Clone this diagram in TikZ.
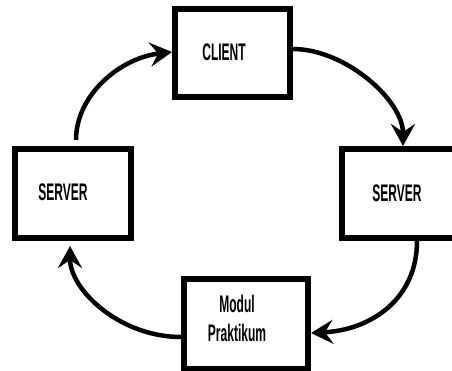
\documentclass[tikz,border=0pt]{standalone}
\usepackage{fontspec}
\setmainfont{Liberation Sans}[FakeStretch=0.5]
\usetikzlibrary{arrows.meta}
\begin{document}
\begin{tikzpicture}[x=1pt,y=-1pt,
  boxst/.style={draw=black,line width=6pt,rectangle,inner sep=0pt,fill=white},
  txt/.style={font=\fontsize{24}{28}\selectfont\bfseries,inner sep=0pt,align=center},
  flow/.style={line width=4.5pt,-{Stealth[length=22pt,width=24pt,inset=8pt]}}]
\useasboundingbox (0,0) rectangle (452,370);
\clip (0,0) rectangle (452,370);
\fill[white] (0,0) rectangle (452,370);
\node[boxst,minimum width=115pt,minimum height=88pt] (client) at (232.5,53) {};
\node[boxst,minimum width=116pt,minimum height=89pt] (sright) at (400,193.5) {};
\node[boxst,minimum width=116pt,minimum height=89pt] (sleft) at (73,193.5) {};
\node[boxst,minimum width=124pt,minimum height=90pt] (modul) at (246,323.5) {};
\node[txt] (tclient) at (224,52) {CLIENT};
\node[txt] (tsright) at (397,193) {SERVER};
\node[txt] (tsleft) at (63,192) {SERVER};
\node[txt] (tmodul) at (237,304) {Modul};
\node[txt] (tprak) at (237,333) {Praktikum};
\coordinate (a1s) at (76,140);
\coordinate (a1e) at (172,52);
\coordinate (a2s) at (293,49);
\coordinate (a2e) at (403,146);
\coordinate (a3s) at (417,241);
\coordinate (a3e) at (311,333);
\coordinate (a4s) at (181,337);
\coordinate (a4e) at (70,246);
\draw[flow] (a1s) .. controls (76,95) and (120,58) .. (a1e);
\draw[flow] (a2s) .. controls (345,49) and (403,100) .. (a2e);
\draw[flow] (a3s) .. controls (417,300) and (370,330) .. (a3e);
\draw[flow] (a4s) .. controls (120,337) and (70,290) .. (a4e);
\end{tikzpicture}
\end{document}
